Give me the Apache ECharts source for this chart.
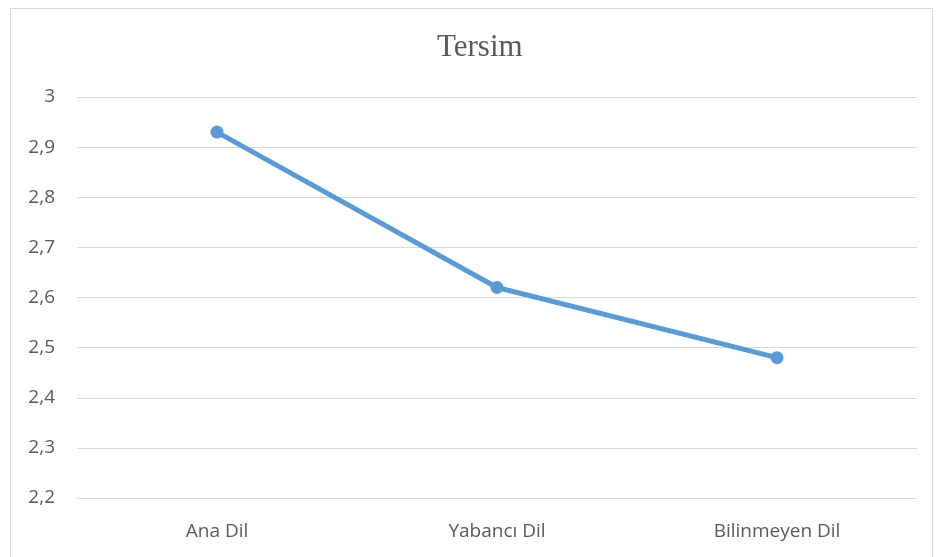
<!DOCTYPE html>
<html><head><meta charset="utf-8">
<script src="https://cdn.jsdelivr.net/npm/echarts@6/dist/echarts.min.js"></script>
<style>html,body{margin:0;padding:0;background:#fff}#c{width:937px;height:557px}</style>
</head><body><div id="c"></div>
<script>
const categories = ["Ana Dil", "Yabancı Dil", "Bilinmeyen Dil"];
const values = [2.93, 2.62, 2.48];
const titleText = "Tersim";

const chart = echarts.init(document.getElementById('c'), null, {renderer: 'canvas'});
chart.setOption({
  backgroundColor: '#fff',
  animation: false,
  graphic: [{
    type: 'rect', left: 8, top: 6,
    shape: {width: 922, height: 560},
    style: {fill: 'none', stroke: '#d9d9d9', lineWidth: 1}, silent: true
  }],
  title: {
    text: titleText, left: 432, top: 27,
    textStyle: {fontFamily: 'Liberation Serif', fontSize: 31, fontWeight: 'normal', color: '#595959'}
  },
  grid: {left: 77, right: 20, top: 97, bottom: 59, containLabel: false},
  xAxis: {
    type: 'category', data: categories, boundaryGap: true,
    axisLine: {show: true, lineStyle: {color: '#d9d9d9', width: 1}},
    axisTick: {show: false},
    axisLabel: {color: '#595959', fontFamily: 'Open Sans', fontSize: 19, margin: 24}
  },
  yAxis: {
    type: 'value', min: 2.2, max: 3, interval: 0.1,
    axisLine: {show: false}, axisTick: {show: false},
    splitLine: {lineStyle: {color: '#d9d9d9', width: 1}},
    axisLabel: {color: '#595959', fontFamily: 'Open Sans', fontSize: 19, margin: 22,
      formatter: v => (Math.round(v * 10) / 10).toString().replace('.', ',')}
  },
  series: [{
    type: 'line', data: values,
    lineStyle: {color: '#5B9BD5', width: 5},
    itemStyle: {color: '#5B9BD5'},
    symbol: 'circle', symbolSize: 13
  }]
});
</script></body></html>
